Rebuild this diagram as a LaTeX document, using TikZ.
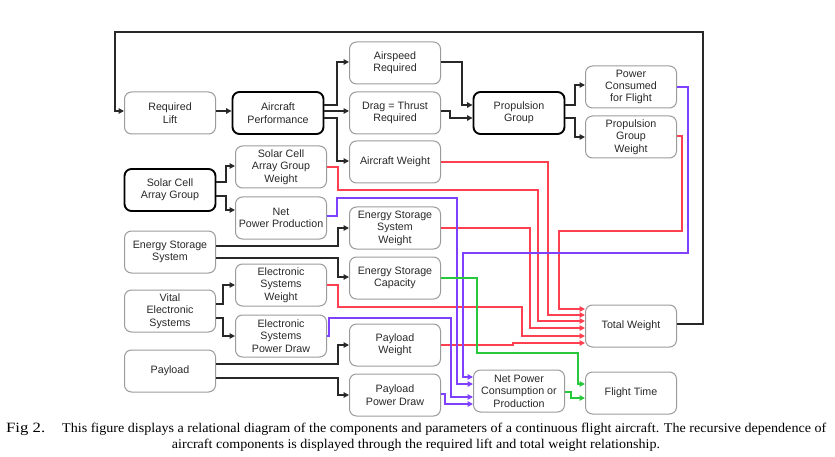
\documentclass[tikz,border=0pt]{standalone}
\usepackage{fontspec}
\setmainfont{Liberation Serif}
\newfontfamily\boxfont{Liberation Sans}
\usetikzlibrary{arrows.meta}
\definecolor{lred}{RGB}{255,64,80}
\definecolor{lpurple}{RGB}{128,64,255}
\definecolor{lgreen}{RGB}{40,200,60}
\definecolor{ink}{RGB}{40,40,40}
\definecolor{frame}{RGB}{155,155,155}
\tikzset{
  blk/.style={draw=frame, line width=1pt, rounded corners=7pt, minimum width=91pt, minimum height=42pt, inner sep=1pt, align=center, text=ink, font=\boxfont\fontsize{10.7}{12.4}\selectfont},
  thk/.style={blk, draw=black, line width=1.9pt},
  arr/.style={draw=ink, line width=1.2pt, -{Triangle[length=5.5pt,width=5.5pt]}},
  rarr/.style={arr, draw=lred},
  parr/.style={arr, draw=lpurple},
  garr/.style={arr, draw=lgreen}
}
\begin{document}
\begin{tikzpicture}[x=1pt,y=-1pt]
\useasboundingbox (0,0) rectangle (835,457);
% nodes
\node[blk] (RL) at (170,113) {Required\\Lift};
\node[thk] (AP) at (278,113) {Aircraft\\Performance};
\node[blk] (ASR) at (395,63) {Airspeed\\Required};
\node[blk] (DTR) at (395,113) {Drag = Thrust\\Required};
\node[blk] (AW) at (395,162) {Aircraft Weight};
\node[thk] (PG) at (519,113) {Propulsion\\Group};
\node[blk] (PCF) at (631,87) {Power\\Consumed\\for Flight};
\node[blk] (PGW) at (631,137) {Propulsion\\Group\\Weight};
\node[thk] (SCAG) at (170,190) {Solar Cell\\Array Group};
\node[blk] (SCAGW) at (281,167) {Solar Cell\\Array Group\\Weight};
\node[blk] (NPP) at (281,218) {Net\\Power Production};
\node[blk] (ESS) at (170,252) {Energy Storage\\System};
\node[blk] (ESSW) at (395,228) {Energy Storage\\System\\Weight};
\node[blk] (ESC) at (395,278) {Energy Storage\\Capacity};
\node[blk] (VES) at (170,311) {Vital\\Electronic\\Systems};
\node[blk] (ESW) at (281,285) {Electronic\\Systems\\Weight};
\node[blk] (ESPD) at (281,336) {Electronic\\Systems\\Power Draw};
\node[blk] (PL) at (170,371) {Payload};
\node[blk] (PLW) at (395,345) {Payload\\Weight};
\node[blk] (PPD) at (395,395) {Payload\\Power Draw};
\node[blk] (NPC) at (519,391) {Net Power\\Consumption or\\Production};
\node[blk] (TW) at (631,326) {Total Weight};
\node[blk] (FT) at (631,393) {Flight Time};
% black connectors
\draw[arr] (TW.east |- 0,324) -- (703,324) -- (703,32) -- (115,32) -- (115,111) -- (RL.west |- 0,111);
\draw[arr] (RL.east |- 0,111) -- (AP.west |- 0,111);
\draw[arr] (AP.east |- 0,105) -- (337,105) -- (337,62) -- (ASR.west |- 0,62);
\draw[arr] (AP.east |- 0,111) -- (DTR.west |- 0,111);
\draw[arr] (AP.east |- 0,118) -- (337,118) -- (337,161) -- (AW.west |- 0,161);
\draw[arr] (ASR.east |- 0,62) -- (462,62) -- (462,105) -- (PG.west |- 0,105);
\draw[arr] (DTR.east |- 0,111) -- (450,111) -- (450,118) -- (PG.west |- 0,118);
\draw[arr] (PG.east |- 0,105) -- (575,105) -- (575,85) -- (PCF.west |- 0,85);
\draw[arr] (PG.east |- 0,118) -- (575,118) -- (575,137) -- (PGW.west |- 0,137);
\draw[arr] (SCAG.east |- 0,182) -- (226,182) -- (226,166) -- (SCAGW.west |- 0,166);
\draw[arr] (SCAG.east |- 0,196) -- (226,196) -- (226,210) -- (NPP.west |- 0,210);
\draw[arr] (ESS.east |- 0,246) -- (338,246) -- (338,228) -- (ESSW.west |- 0,228);
\draw[arr] (ESS.east |- 0,258) -- (338,258) -- (338,277) -- (ESC.west |- 0,277);
\draw[arr] (VES.east |- 0,304) -- (223,304) -- (223,285) -- (ESW.west |- 0,285);
\draw[arr] (VES.east |- 0,318) -- (223,318) -- (223,336) -- (ESPD.west |- 0,336);
\draw[arr] (PL.east |- 0,364) -- (338,364) -- (338,345) -- (PLW.west |- 0,345);
\draw[arr] (PL.east |- 0,378) -- (338,378) -- (338,395) -- (PPD.west |- 0,395);
% red connectors
\draw[rarr] (PGW.east |- 0,136) -- (682,136) -- (682,231) -- (559,231) -- (559,309) -- (TW.west |- 0,309);
\draw[rarr] (AW.east |- 0,162) -- (548,162) -- (548,315) -- (TW.west |- 0,315);
\draw[rarr] (SCAGW.east |- 0,167) -- (338,167) -- (338,190) -- (538,190) -- (538,321) -- (TW.west |- 0,321);
\draw[rarr] (ESSW.east |- 0,228) -- (530,228) -- (530,328) -- (TW.west |- 0,328);
\draw[rarr] (ESW.east |- 0,285) -- (338,285) -- (338,307) -- (522,307) -- (522,336) -- (TW.west |- 0,336);
\draw[rarr] (PLW.east |- 0,345) -- (513,345) -- (513,343) -- (TW.west |- 0,343);
% purple connectors
\draw[parr] (PCF.east |- 0,87) -- (688,87) -- (688,253) -- (463,253) -- (463,377) -- (NPC.west |- 0,377);
\draw[parr] (NPP.east |- 0,216) -- (337,216) -- (337,198) -- (457,198) -- (457,384) -- (NPC.west |- 0,384);
\draw[parr] (ESPD.east |- 0,336) -- (329,336) -- (329,318) -- (451,318) -- (451,397) -- (NPC.west |- 0,397);
\draw[parr] (PPD.east |- 0,394) -- (445,394) -- (445,404) -- (NPC.west |- 0,404);
% green connectors
\draw[garr] (ESC.east |- 0,278) -- (477,278) -- (477,353) -- (578,353) -- (578,384) -- (FT.west |- 0,384);
\draw[garr] (NPC.east |- 0,392) -- (571,392) -- (571,398) -- (FT.west |- 0,398);
% caption
\node[anchor=base west, inner sep=0pt] (figlab) at (6,432) {\resizebox{39pt}{9.4pt}{\fontsize{12}{13}\selectfont Fig 2.}};
\node[anchor=base west, inner sep=0pt] (cap1) at (62,432) {\resizebox{764pt}{9.4pt}{\fontsize{12}{13}\selectfont This figure displays a relational diagram of the components and parameters of a continuous flight aircraft. The recursive dependence of}};
\node[anchor=base, inner sep=0pt] (cap2) at (416,448) {\resizebox{488pt}{9.4pt}{\fontsize{12}{13}\selectfont aircraft components is displayed through the required lift and total weight relationship.}};
\end{tikzpicture}
\end{document}
